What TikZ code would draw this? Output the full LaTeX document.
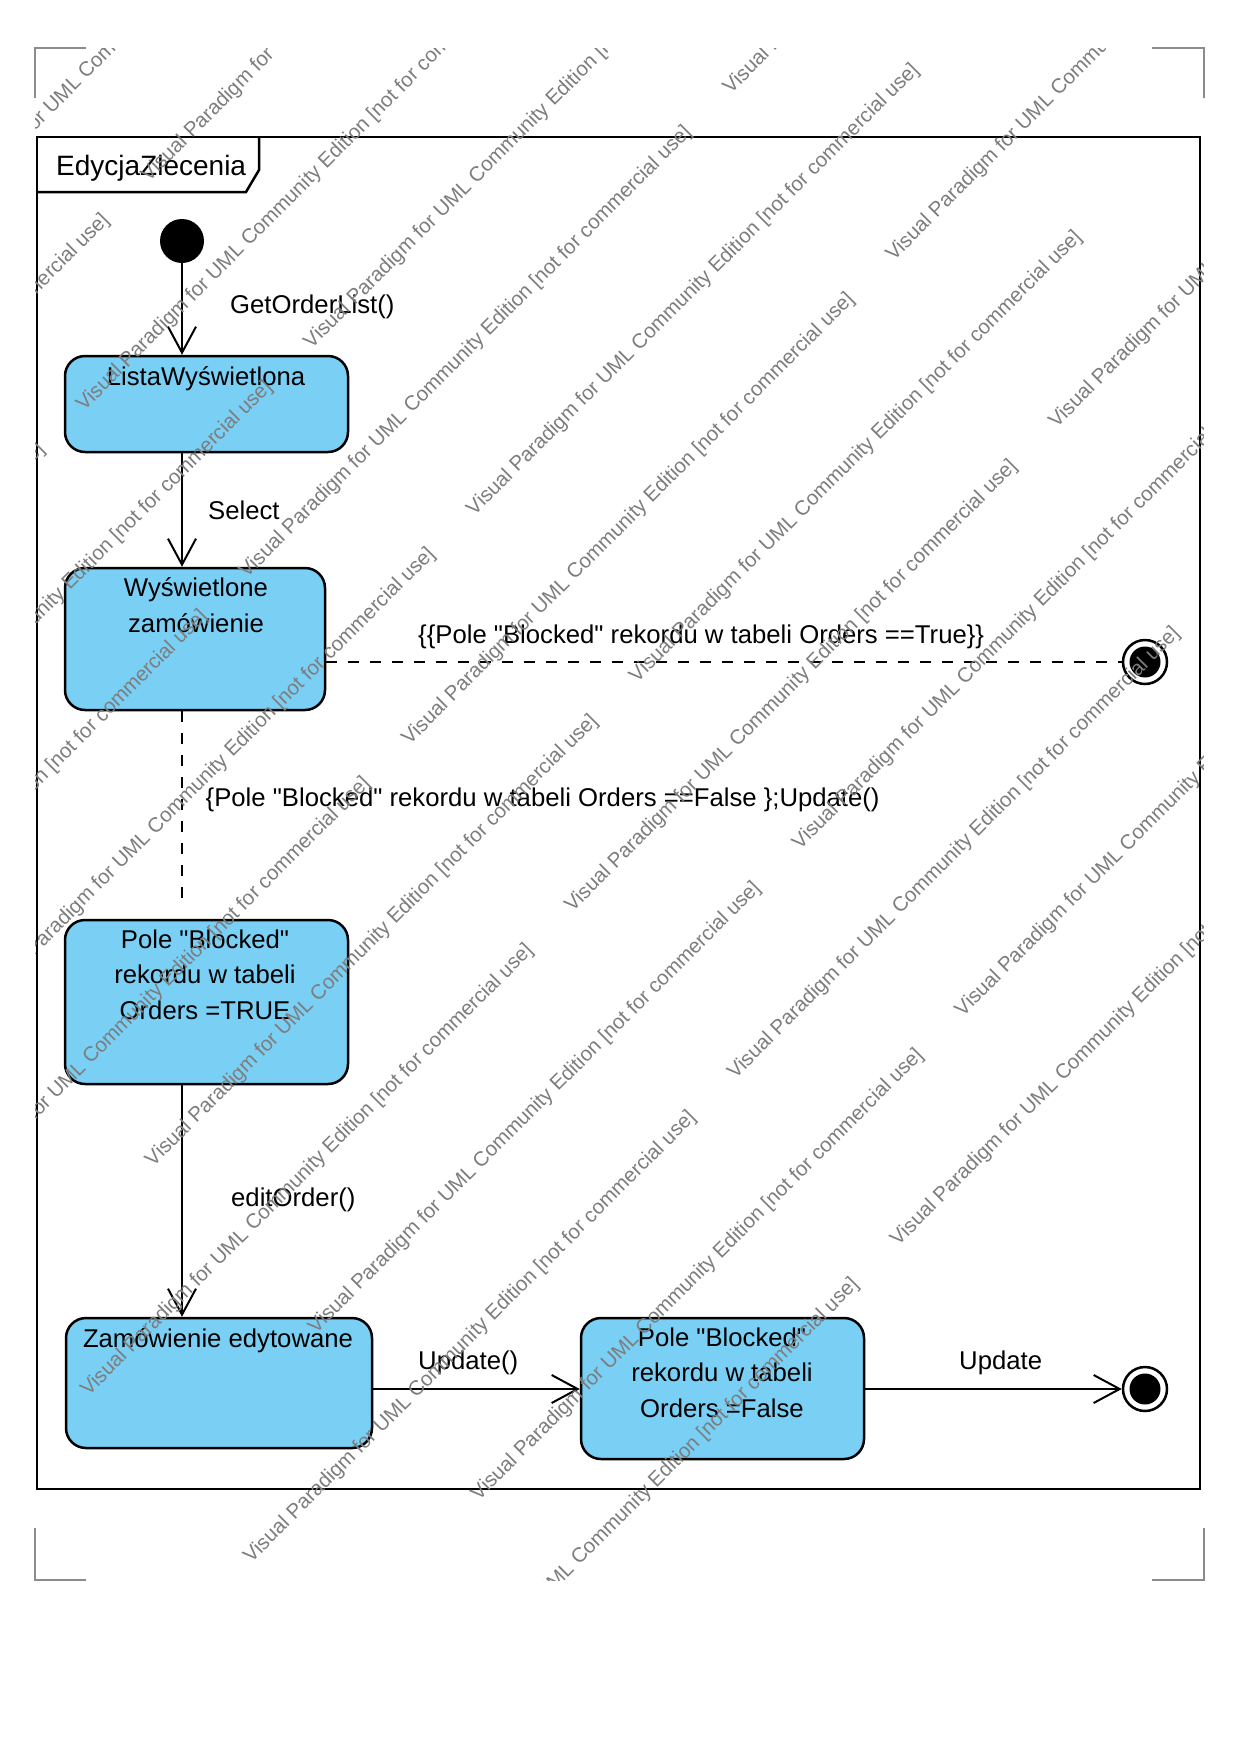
\documentclass[tikz,border=0pt]{standalone}
\usepackage{fontspec}
\setmainfont{Liberation Sans}[Ligatures=TeXOff]
\usetikzlibrary{arrows.meta}
\definecolor{stateblue}{RGB}{122,207,245}
\definecolor{wmgray}{RGB}{125,125,125}
\definecolor{markgray}{RGB}{140,140,140}
\newcommand{\lblfont}{\fontsize{25.7}{36}\selectfont}
\newcommand{\titlefont}{\fontsize{28}{32}\selectfont}
\newcommand{\wmfont}{\fontsize{20.5}{24}\selectfont}

\begin{document}
\begin{tikzpicture}[x=1pt,y=-1pt,
  state/.style={draw, line width=2.5pt, fill=stateblue, rounded corners=20pt, inner sep=0pt},
  lbl/.style={font=\lblfont, inner sep=0pt, anchor=base west},
  stxt/.style={font=\lblfont, inner sep=0pt, anchor=base},
  trans/.style={line width=2pt, -{Straight Barb[length=26pt,width=28pt]}},
  guard/.style={line width=2pt, dash pattern=on 11pt off 11pt},
  initst/.style={circle, fill=black, minimum size=44pt, inner sep=0pt},
  finalst/.style={circle, draw, line width=2.5pt, fill=white, minimum size=44pt, inner sep=0pt,
    path picture={\fill[black] (path picture bounding box.center) circle[radius=15.5pt];}},
  cropmark/.style={line width=2pt, draw=markgray},
  framepen/.style={line width=2.5pt},
  wm/.style={font=\wmfont, text=wmgray, rotate=45, anchor=base west, inner sep=0pt}]

% page
\fill[white] (0,0) rectangle (1240,1754);
\useasboundingbox (0,0) rectangle (1240,1754);

% crop marks
\draw[cropmark] (35,98) -- (35,48) -- (86,48);
\draw[cropmark] (1152,48) -- (1204,48) -- (1204,98);
\draw[cropmark] (35,1528) -- (35,1580) -- (86,1580);
\draw[cropmark] (1152,1580) -- (1204,1580) -- (1204,1528);

% frame with its name tab
\draw[framepen] (37,137) rectangle (1200,1489);
\draw[framepen] (37,192) -- (246,192) -- (259,170) -- (259,137);
\node[lbl, font=\titlefont] (title) at (56,175) {EdycjaZlecenia};

% states
\node[initst] (init) at (182,241) {};
\node[state, minimum width=283pt, minimum height=96pt] (list) at (206.5,404) {};
\node[stxt] (listt) at (206,385) {ListaWyświetlona};

\node[state, minimum width=260pt, minimum height=142pt] (wys) at (195,639) {};
\node[stxt] (wyst1) at (196,596) {Wyświetlone};
\node[stxt] (wyst2) at (196,632) {zamówienie};

\node[finalst] (fin1) at (1145,662) {};

\node[state, minimum width=283pt, minimum height=164pt] (true) at (206.5,1002) {};
\node[stxt] (truet1) at (205,948) {Pole "Blocked"};
\node[stxt] (truet2) at (205,983.5) {rekordu w tabeli};
\node[stxt] (truet3) at (205,1019) {Orders =TRUE};

\node[state, minimum width=306pt, minimum height=130pt] (edit) at (219,1383) {};
\node[stxt] (editt) at (218,1347) {Zamówienie edytowane};

\node[state, minimum width=283pt, minimum height=141pt] (false) at (722.5,1388.5) {};
\node[stxt] (falset1) at (722,1346) {Pole "Blocked"};
\node[stxt] (falset2) at (722,1381.5) {rekordu w tabeli};
\node[stxt] (falset3) at (722,1417) {Orders =False};

\node[finalst] (fin2) at (1145,1389) {};

% transitions
\coordinate (gend) at (182,906);
\draw[trans] (init) -- (init |- list.north);
\draw[trans] (init |- list.south) -- (init |- wys.north);
\draw[guard] (fin1 -| wys.east) -- (fin1.west);
\draw[guard] (init |- wys.south) -- (gend);
\draw[trans] (init |- true.south) -- (init |- edit.north);
\draw[trans] (edit.east |- fin2) -- (false.west |- fin2);
\draw[trans] (false.east |- fin2) -- (fin2);

% transition labels
\node[lbl] (l1) at (230,313) {GetOrderList()};
\node[lbl] (l2) at (208,519) {Select};
\node[lbl] (l3) at (418,643) {\{\{Pole "Blocked" rekordu w tabeli Orders ==True\}\}};
\node[lbl] (l4) at (205.5,806) {\{Pole "Blocked" rekordu w tabeli Orders ==False \};Update()};
\node[lbl] (l5) at (231,1206) {editOrder()};
\node[lbl] (l6) at (418,1369) {Update()};
\node[lbl] (l7) at (959,1369) {Update};

% edition watermark: rows along 45 degree diagonals, three copies per row
\begin{scope}
  \clip (35,48) rectangle (1203,1580);
  \foreach \k in {-1,...,11}{
    \pgfmathsetmacro{\m}{floor(\k/2)}
    \pgfmathsetmacro{\odd}{\k-2*\m}
    \pgfmathsetmacro{\xs}{148.7+162.8*\m-64.7*\odd}
    \pgfmathsetmacro{\ys}{331+164.9*\k-\xs}
    \pgfmathtruncatemacro{\jlo}{ceil((-1340-\xs+\ys)/968)}
    \pgfmathtruncatemacro{\jhi}{floor((700-\xs+\ys)/968)}
    \foreach \j in {\jlo,...,\jhi}{
      \node[wm, name=wm-\k-\j] at ({\xs+484*(\j)},{\ys-484*(\j)})
        {Visual Paradigm for UML Community Edition [not for commercial use]};
    }
  }
\end{scope}
\end{tikzpicture}
\end{document}
